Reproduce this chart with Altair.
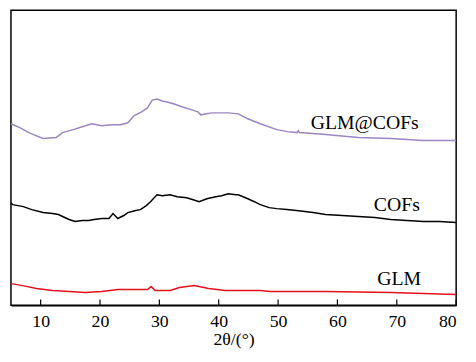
import altair as alt
import pandas as pd

FONT = "Liberation Serif"

# GLM@COFs (purple)
glmcof_x = [5, 6.5, 8, 10.4, 12.6, 13.7, 15.5, 17, 18.6, 20.3, 22, 23.5, 24.7, 25.7, 27, 28, 28.8, 29.6,
            30.5, 31.3, 32.5, 33.9, 35.5, 36.5, 37, 38.8, 40, 41.6, 43.3, 44.9, 47, 49.8, 51.5, 53.2,
            53.4, 53.6, 58, 63.5, 69, 74.5, 80]
glmcof_y = [184, 180, 175, 169, 170, 175, 178, 181, 184, 182, 183, 183, 185, 192, 196, 200, 208, 209,
            207, 206, 204, 201, 198, 196, 193, 195, 195, 195, 194, 189, 184, 178, 176, 175,
            177, 175, 173, 170, 169, 167, 167]

# COFs (black)
cof_x = [5, 5.3, 7.1, 8.5, 10.4, 12, 13, 13.7, 14.8, 15.8, 17, 18.1, 19, 20.3, 21.5, 22.2, 23, 24, 24.7,
         26, 26.8, 27.8, 28.5, 29.6, 30.5, 31.8, 33, 34.6, 35.7, 36.7, 38, 39.5, 40.5, 41.6, 42.9, 43.3,
         44.9, 46, 47, 48.5, 49.8, 51.5, 53.1, 54.5, 55.9, 58, 60.8, 63.5, 66.3, 69, 71.7, 74.5, 77.2, 80]
cof_y = [104, 102, 100, 97, 94, 93, 92, 90, 87, 85, 86, 86, 87, 88, 88, 93, 88, 91, 94,
         96, 97, 101, 105, 112, 111, 112, 110, 109, 107, 105, 108, 110, 111, 113, 112, 112,
         108, 105, 102, 99, 98, 97, 96, 95, 94, 92, 91, 90, 89, 87, 86, 85, 85, 84]

# GLM (red)
glm_x = [5, 7, 9.3, 12, 14.8, 17.5, 20.3, 23, 25.7, 28, 28.6, 29.3, 31.8, 33.4, 35.9, 38.3, 41.1,
         43.3, 47, 48.7, 58, 69, 80]
glm_y = [22, 20, 17, 15, 14, 13, 14, 16, 16, 16, 19, 15, 15, 18, 20, 17, 15,
         15, 15, 14, 14, 13, 11]

label_text = ["GLM@COFs", "COFs", "GLM"]
label_x = [64.6, 70.0, 70.4]
label_y = [185, 102, 27]

tick_values = [10, 20, 30, 40, 50, 60, 70, 80]

rows = []
for name, xs, ys in [("GLM@COFs", glmcof_x, glmcof_y), ("COFs", cof_x, cof_y), ("GLM", glm_x, glm_y)]:
    for x, y in zip(xs, ys):
        rows.append({"series": name, "x": x, "y": y})
df = pd.DataFrame(rows)
labels = pd.DataFrame({"text": label_text, "x": label_x, "y": label_y})
ticks = pd.DataFrame({"x": tick_values})

W, H = 451, 299
xscale = alt.Scale(domain=[5, 80], nice=False, zero=False)
yscale = alt.Scale(domain=[0, 299], nice=False, zero=False)

lines = alt.Chart(df).mark_line(strokeWidth=1.5).encode(
    x=alt.X("x:Q", scale=xscale,
            axis=alt.Axis(values=tick_values, title="2θ/(°)", grid=False, ticks=False,
                          domain=True, domainColor="black", domainWidth=1.5,
                          labelFont=FONT, labelFontSize=18, labelColor="black", labelPadding=7,
                          titleFont=FONT, titleFontSize=18, titleFontWeight="normal",
                          titleColor="black", titlePadding=1)),
    y=alt.Y("y:Q", scale=yscale, axis=None),
    color=alt.Color("series:N",
                    scale=alt.Scale(domain=["GLM@COFs", "COFs", "GLM"],
                                    range=["#9a86c2", "#000000", "#e3111b"]),
                    legend=None),
    detail="series:N",
)

tickmarks = alt.Chart(ticks).mark_rule(color="black", strokeWidth=1.2).encode(
    x=alt.X("x:Q", scale=xscale),
    y=alt.value(H),
    y2=alt.value(H - 6),
)

text = alt.Chart(labels).mark_text(font=FONT, fontSize=20, color="black").encode(
    x=alt.X("x:Q", scale=xscale),
    y=alt.Y("y:Q", scale=yscale),
    text="text:N",
)

chart = alt.layer(lines, tickmarks, text).properties(
    width=W, height=H, background="white",
    padding={"left": 0, "top": 0, "right": 9, "bottom": 0}
).configure_view(stroke="black", strokeWidth=1.5).configure_axis(
    labelFont=FONT, titleFont=FONT
).configure_text(font=FONT)

chart.save("out.html", embed_options={"renderer": "svg", "actions": False})
